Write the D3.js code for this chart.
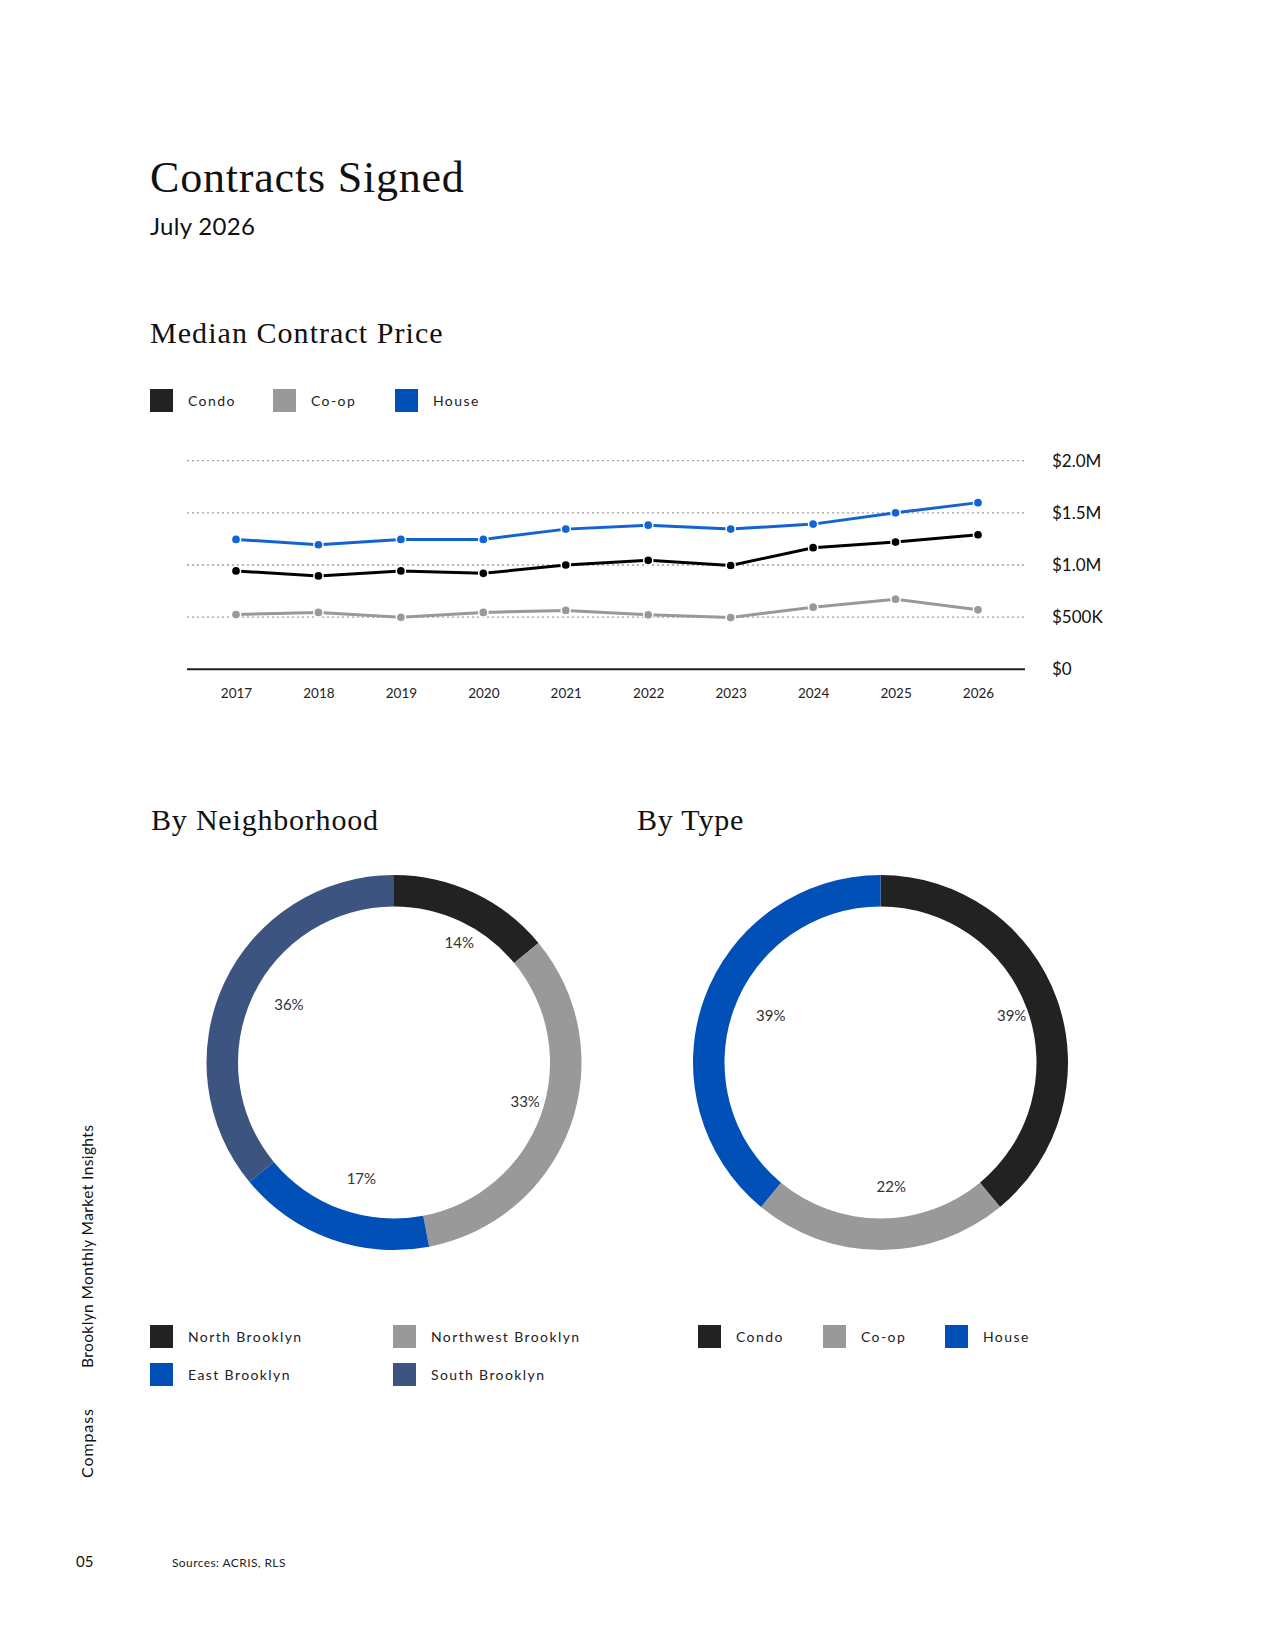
<!DOCTYPE html>
<html>
<head>
<meta charset="utf-8">
<script src="https://cdn.jsdelivr.net/npm/d3@7"></script>
<style>
  body { margin: 0; background: #fff; }
  svg { display: block; }
  .serif { font-family: "Liberation Serif", "Times New Roman", serif; fill: #111; }
  .sans { font-family: Lato, "Noto Sans", sans-serif; fill: #222; }
</style>
</head>
<body>
<svg id="page" width="1275" height="1650"></svg>
<script>
// data
var years = [2017, 2018, 2019, 2020, 2021, 2022, 2023, 2024, 2025, 2026];
var condo = [943000, 895000, 943000, 920000, 1000000, 1045000, 995000, 1166000, 1220000, 1290000];
var coop  = [525000, 545000, 498000, 545000, 564000, 522000, 496000, 596000, 672000, 570000];
var house = [1245000, 1194000, 1245000, 1245000, 1344000, 1382000, 1344000, 1392000, 1500000, 1598000];
var yTicks = [0, 500000, 1000000, 1500000, 2000000];
var yTickLabels = ["$0", "$500K", "$1.0M", "$1.5M", "$2.0M"];

var hoodNames = ["North Brooklyn", "Northwest Brooklyn", "East Brooklyn", "South Brooklyn"];
var hoodShare = [14, 33, 17, 36];
var typeNames = ["Condo", "Co-op", "House"];
var typeShare = [39, 22, 39];

var svg = d3.select("#page");

// headings
svg.append("text").attr("class", "serif").attr("x", 150).attr("y", 192)
  .style("font-size", "44px").style("letter-spacing", "0.8px").text("Contracts Signed");
svg.append("text").attr("class", "sans").attr("x", 150).attr("y", 235)
  .style("font-size", "24px").style("fill", "#111").style("letter-spacing", "0.3px").text("July 2026");
svg.append("text").attr("class", "serif").attr("x", 150).attr("y", 343)
  .style("font-size", "30px").style("letter-spacing", "1.05px").text("Median Contract Price");

function legend(g, items) {
  var it = g.selectAll("g").data(items).enter().append("g")
    .attr("transform", function(d) { return "translate(" + d.x + "," + d.y + ")"; });
  it.append("rect").attr("width", 23).attr("height", 23).attr("fill", function(d) { return d.color; });
  it.append("text").attr("class", "sans")
    .attr("x", 38).attr("y", 12).attr("dy", "0.35em")
    .style("font-size", "14px").style("letter-spacing", "1.4px")
    .text(function(d) { return d.name; });
}

legend(svg.append("g"), [
  {name: "Condo", color: "#222222", x: 150, y: 389},
  {name: "Co-op", color: "#999999", x: 273, y: 389},
  {name: "House", color: "#0050b8", x: 395, y: 389}
]);

// line chart
var x = d3.scalePoint().domain(years).range([236, 978]);
var y = d3.scaleLinear().domain([0, 2000000]).range([669.3, 460.7]);

var chart = svg.append("g");

chart.selectAll("line.grid").data(yTicks.slice(1)).enter().append("line")
  .attr("class", "grid")
  .attr("x1", 187).attr("x2", 1025)
  .attr("y1", function(d) { return y(d); }).attr("y2", function(d) { return y(d); })
  .attr("stroke", "#a0a0a0").attr("stroke-width", 1.3).attr("stroke-dasharray", "2,3");

chart.append("line").attr("x1", 187).attr("x2", 1025)
  .attr("y1", y(0)).attr("y2", y(0))
  .attr("stroke", "#222").attr("stroke-width", 2);

chart.selectAll("text.ylab").data(yTicks).enter().append("text")
  .attr("class", "sans ylab")
  .attr("x", 1052).attr("y", function(d) { return y(d); }).attr("dy", "0.35em")
  .style("font-size", "17px").style("fill", "#111")
  .text(function(d, i) { return yTickLabels[i]; });

var xAxis = d3.axisBottom(x).tickSize(0).tickPadding(0);
var xg = chart.append("g").attr("transform", "translate(0,688)").call(xAxis);
xg.select(".domain").remove();
xg.selectAll("text").attr("class", "sans").attr("dy", "0.71em")
  .style("font-family", "Lato, 'Noto Sans', sans-serif")
  .style("font-size", "13.5px").style("fill", "#222");

var series = [
  {values: coop, color: "#999999"},
  {values: condo, color: "#000000"},
  {values: house, color: "#1463d2"}
];

var line = d3.line()
  .x(function(d, i) { return x(years[i]); })
  .y(function(d) { return y(d); });

series.forEach(function(s) {
  chart.append("path").datum(s.values)
    .attr("d", line).attr("fill", "none")
    .attr("stroke", s.color).attr("stroke-width", 3);
  chart.selectAll(null).data(s.values).enter().append("circle")
    .attr("cx", function(d, i) { return x(years[i]); })
    .attr("cy", function(d) { return y(d); })
    .attr("r", 4.6)
    .attr("fill", s.color).attr("stroke", "#fff").attr("stroke-width", 1.5);
});

// donuts
svg.append("text").attr("class", "serif").attr("x", 151).attr("y", 830)
  .style("font-size", "30px").style("letter-spacing", "0.8px").text("By Neighborhood");
svg.append("text").attr("class", "serif").attr("x", 637).attr("y", 830)
  .style("font-size", "30px").style("letter-spacing", "0.8px").text("By Type");

function donut(cx, cy, shares, colors) {
  var g = svg.append("g").attr("transform", "translate(" + cx + "," + cy + ")");
  var pie = d3.pie().sort(null).value(function(d) { return d; });
  var arc = d3.arc().innerRadius(156).outerRadius(187.5);
  var lab = d3.arc().innerRadius(128).outerRadius(128);
  var arcs = pie(shares);
  g.selectAll("path").data(arcs).enter().append("path")
    .attr("d", arc).attr("fill", function(d, i) { return colors[i]; });
  g.selectAll("text").data(arcs).enter().append("text")
    .attr("class", "sans")
    .attr("transform", function(d) { return "translate(" + lab.centroid(d) + ")"; })
    .attr("x", -4).attr("dy", "0.1em")
    .style("font-size", "15px").style("fill", "#333")
    .text(function(d) { return d.data + "%"; });
}

donut(394, 1062.5, hoodShare, ["#222222", "#999999", "#0050b8", "#3d5480"]);
donut(880.5, 1062.5, typeShare, ["#222222", "#999999", "#0050b8"]);

var hoodColors = ["#222222", "#999999", "#0050b8", "#3d5480"];
var hoodPos = [[150, 1325], [393, 1325], [150, 1363], [393, 1363]];
legend(svg.append("g"), hoodNames.map(function(n, i) {
  return {name: n, color: hoodColors[i], x: hoodPos[i][0], y: hoodPos[i][1]};
}));

var typeColors = ["#222222", "#999999", "#0050b8"];
var typeX = [695, 820, 942];
legend(svg.append("g"), typeNames.map(function(n, i) {
  return {name: n, color: typeColors[i], x: typeX[i] + 3, y: 1325};
}));

// side and footer text
svg.append("text").attr("class", "sans")
  .attr("transform", "translate(93,1368) rotate(-90)")
  .style("font-size", "15.5px").style("letter-spacing", "0.4px").style("fill", "#111")
  .text("Brooklyn Monthly Market Insights");
svg.append("text").attr("class", "sans")
  .attr("transform", "translate(93,1478) rotate(-90)")
  .style("font-size", "16px").style("letter-spacing", "0.9px").style("fill", "#111")
  .text("Compass");
svg.append("text").attr("class", "sans").attr("x", 76).attr("y", 1567)
  .style("font-size", "15px").style("fill", "#111").text("05");
svg.append("text").attr("class", "sans").attr("x", 172).attr("y", 1567)
  .style("font-size", "12px").style("letter-spacing", "0.4px").style("fill", "#222").text("Sources: ACRIS, RLS");
</script>
</body>
</html>
